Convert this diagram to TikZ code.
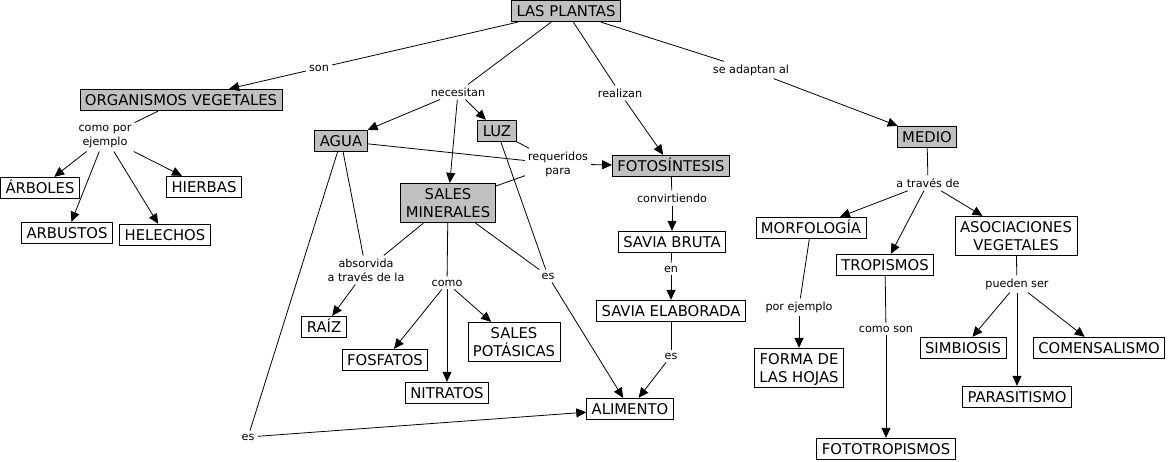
\documentclass[tikz,border=0pt]{standalone}
\usepackage{fontspec}
\setmainfont{DejaVu Sans}
\usetikzlibrary{arrows.meta}
\definecolor{cgray}{RGB}{192,192,192}
\newcommand\tstr{\rule{0pt}{14.5pt}}
\newcommand\bstr{\rule[-3pt]{0pt}{3pt}}
\tikzset{
  conceptbase/.style={draw=black, line width=0.8pt, fill=white, inner xsep=5pt, inner ysep=2pt,
    align=center, font=\fontsize{14.8}{18}\selectfont},
  concept/.style={conceptbase, text height=14.5pt, text depth=3pt},
  gconcept/.style={concept, fill=cgray},
  mconcept/.style={conceptbase},
  gmconcept/.style={conceptbase, fill=cgray},
  linkph/.style={inner sep=3pt, align=center,
    font=\fontsize{11.2}{14}\selectfont},
  conn/.style={line width=0.8pt},
  arr/.style={line width=0.8pt, -{Triangle[length=10pt,width=9pt]}}
}
\begin{document}
\begin{tikzpicture}[x=1pt,y=-1pt]
\useasboundingbox (0,0) rectangle (1168,462);
% concepts
\node[gconcept] (plantas) at (566,11) {LAS PLANTAS};
\node[gconcept] (org) at (181,100) {ORGANISMOS VEGETALES};
\node[concept] (arboles) at (40,188) {ÁRBOLES};
\node[concept] (hierbas) at (204,187) {HIERBAS};
\node[concept] (arbustos) at (67,233) {ARBUSTOS};
\node[concept] (helechos) at (165,235) {HELECHOS};
\node[gconcept] (agua) at (341,141) {AGUA};
\node[gconcept] (luz) at (497,131) {LUZ};
\node[gmconcept] (sales) at (448,203) {\tstr SALES\\MINERALES\bstr};
\node[gconcept] (foto) at (671,166) {FOTOSÍNTESIS};
\node[concept] (savbruta) at (672,242) {SAVIA BRUTA};
\node[concept] (savelab) at (671,311) {SAVIA ELABORADA};
\node[concept] (alimento) at (630,409) {ALIMENTO};
\node[concept] (raiz) at (324,327) {RAÍZ};
\node[concept] (fosfatos) at (385,360) {FOSFATOS};
\node[concept] (nitratos) at (447,393) {NITRATOS};
\node[mconcept] (potasicas) at (514,342) {\tstr SALES\\POTÁSICAS\bstr};
\node[gconcept] (medio) at (927,137) {MEDIO};
\node[concept] (morfo) at (811,228) {MORFOLOGÍA};
\node[concept] (tropismos) at (885,265) {TROPISMOS};
\node[mconcept] (asoc) at (1016,236) {\tstr ASOCIACIONES\\VEGETALES\bstr};
\node[mconcept] (forma) at (799,368) {\tstr FORMA DE\\LAS HOJAS\bstr};
\node[concept] (fototrop) at (886,449) {FOTOTROPISMOS};
\node[concept] (simbiosis) at (963,348) {SIMBIOSIS};
\node[concept] (comensal) at (1099,348) {COMENSALISMO};
\node[concept] (parasit) at (1017,397) {PARASITISMO};
% linking phrases
\node[linkph] (lson) at (319,68) {son};
\node[linkph] (lnec) at (458,92) {necesitan};
\node[linkph] (lreal) at (620,93) {realizan};
\node[linkph] (ladapt) at (751,70) {se adaptan al};
\node[linkph] (lcomoej) at (105,137) {como por\\ejemplo};
\node[linkph] (lreq) at (558,164) {requeridos\\para};
\node[linkph] (labs) at (366,270) {absorvida\\a través de la};
\node[linkph] (lcomo) at (447,283) {como};
\node[linkph] (les1) at (548,276) {es};
\node[linkph] (les2) at (671,356) {es};
\node[linkph] (les3) at (248,437) {es};
\node[linkph] (lconv) at (672,198) {convirtiendo};
\node[linkph] (len) at (671,269) {en};
\node[linkph] (latrav) at (928,183) {a través de};
\node[linkph] (lporej) at (799,307) {por ejemplo};
\node[linkph] (lcomoson) at (886,329) {como son};
\node[linkph] (lpueden) at (1017,284) {pueden ser};
% connectors
\draw[conn] (plantas) -- (lson); \draw[arr] (lson) -- (org);
\draw[conn] (plantas) -- (lnec);
\draw[arr] (lnec) -- (agua); \draw[arr] (lnec) -- (sales); \draw[arr] (lnec) -- (luz);
\draw[conn] (plantas) -- (lreal); \draw[arr] (lreal) -- (foto);
\draw[conn] (plantas) -- (ladapt); \draw[arr] (ladapt) -- (medio);
\draw[conn] (org) -- (lcomoej);
\draw[arr] (lcomoej) -- (arboles); \draw[arr] (lcomoej) -- (arbustos);
\draw[arr] (lcomoej) -- (helechos); \draw[arr] (lcomoej) -- (hierbas);
\draw[conn] (agua) -- (lreq); \draw[conn] (luz) -- (lreq); \draw[conn] (sales) -- (lreq);
\draw[arr] (lreq) -- (foto);
\draw[conn] (agua) -- (labs); \draw[conn] (sales) -- (labs); \draw[arr] (labs) -- (raiz);
\draw[conn] (sales) -- (lcomo);
\draw[arr] (lcomo) -- (fosfatos); \draw[arr] (lcomo) -- (nitratos); \draw[arr] (lcomo) -- (potasicas);
\draw[conn] (luz) -- (les1); \draw[conn] (sales) -- (les1); \draw[arr] (les1) -- (alimento);
\draw[conn] (agua) -- (les3); \draw[arr] (les3) -- (alimento);
\draw[conn] (foto) -- (lconv); \draw[arr] (lconv) -- (savbruta);
\draw[conn] (savbruta) -- (len); \draw[arr] (len) -- (savelab);
\draw[conn] (savelab) -- (les2); \draw[arr] (les2) -- (alimento);
\draw[conn] (medio) -- (latrav);
\draw[arr] (latrav) -- (morfo); \draw[arr] (latrav) -- (tropismos); \draw[arr] (latrav) -- (asoc);
\draw[conn] (morfo) -- (lporej); \draw[arr] (lporej) -- (forma);
\draw[conn] (tropismos) -- (lcomoson); \draw[arr] (lcomoson) -- (fototrop);
\draw[conn] (asoc) -- (lpueden);
\draw[arr] (lpueden) -- (simbiosis); \draw[arr] (lpueden) -- (parasit); \draw[arr] (lpueden) -- (comensal);
\end{tikzpicture}
\end{document}
